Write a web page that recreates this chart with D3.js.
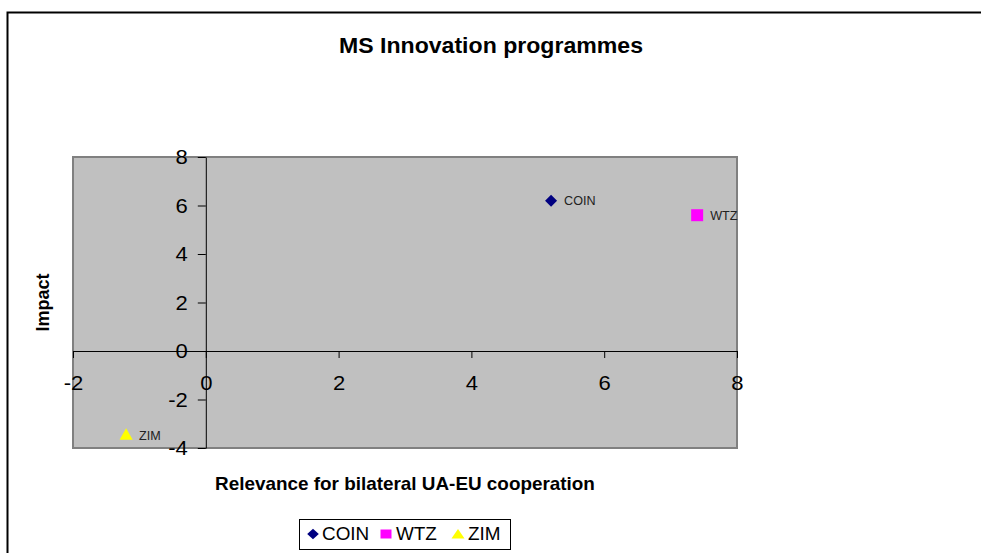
<!DOCTYPE html>
<html>
<head>
<meta charset="utf-8">
<script src="https://cdn.jsdelivr.net/npm/d3@7"></script>
<style>
  body { margin: 0; background: #fff; }
  text { font-family: "Liberation Sans", Arial, sans-serif; }
</style>
</head>
<body>
<div id="wrapper"></div>
<script>
// series data
const seriesNames = ["COIN", "WTZ", "ZIM"]
const relevanceValues = [5.2, 7.4, -1.2]
const impactValues = [6.2, 5.6, -3.5]
const seriesColors = ["#000080", "#FF00FF", "#FFFF00"]
const seriesShapes = ["diamond", "square", "triangle"]
const xTicks = [-2, 0, 2, 4, 6, 8]
const yTicks = [-4, -2, 0, 2, 4, 6, 8]

// text in the original is slightly wider than Liberation Sans
const stretch = 1.05

function drawChart() {
    const dimensions = {
        width: 981,
        height: 553,
        plot: { left: 73, right: 737, top: 157, bottom: 448 },
    }

    const svg = d3.select("#wrapper")
        .append("svg")
            .attr("width", dimensions.width)
            .attr("height", dimensions.height)

    // outer chart border (runs off the right and bottom of the picture)
    svg.append("rect")
        .attr("x", 7.5)
        .attr("y", 12.5)
        .attr("width", 1000)
        .attr("height", 600)
        .attr("fill", "none")
        .attr("stroke", "#000")
        .attr("stroke-width", 2)

    svg.append("text")
        .attr("transform", `translate(491,53) scale(${stretch},1)`)
        .attr("text-anchor", "middle")
        .attr("font-size", 22)
        .attr("font-weight", "bold")
        .text("MS Innovation programmes")

    const xScale = d3.scaleLinear()
        .domain([-2, 8])
        .range([dimensions.plot.left, dimensions.plot.right])

    const yScale = d3.scaleLinear()
        .domain([-4, 8])
        .range([dimensions.plot.bottom, dimensions.plot.top])

    // grey plot area
    svg.append("rect")
        .attr("x", dimensions.plot.left)
        .attr("y", dimensions.plot.top)
        .attr("width", dimensions.plot.right - dimensions.plot.left)
        .attr("height", dimensions.plot.bottom - dimensions.plot.top)
        .attr("fill", "#C0C0C0")
        .attr("stroke", "#808080")
        .attr("stroke-width", 2)

    const tickFormat = d => String(d)  // plain hyphen minus like the original

    // axes cross at zero
    const yAxis = d3.axisLeft(yScale)
        .tickValues(yTicks)
        .tickFormat(tickFormat)
        .tickSize(8)
        .tickSizeOuter(0)

    const yAxisG = svg.append("g")
        .attr("transform", `translate(${xScale(0)},0)`)
        .call(yAxis)
    yAxisG.selectAll("text")
        .attr("x", 0)
        .attr("transform", `translate(-18,0) scale(${stretch},1)`)

    const xAxis = d3.axisBottom(xScale)
        .tickValues(xTicks)
        .tickFormat(tickFormat)
        .tickSize(7)
        .tickPadding(17)
        .tickSizeOuter(0)

    const xAxisG = svg.append("g")
        .attr("transform", `translate(0,${yScale(0)})`)
        .call(xAxis)
    xAxisG.selectAll("text")
        .attr("transform", `scale(${stretch},1)`)

    svg.selectAll(".tick text")
        .attr("font-size", 21)
        .attr("fill", "#000")
        .attr("font-family", "Liberation Sans, Arial, sans-serif")
    svg.selectAll(".domain, .tick line").attr("stroke", "#000")

    // axis titles
    svg.append("text")
        .attr("transform", `translate(${(dimensions.plot.left + dimensions.plot.right) / 2},490) scale(${stretch},1)`)
        .attr("text-anchor", "middle")
        .attr("font-size", 18)
        .attr("font-weight", "bold")
        .text("Relevance for bilateral UA-EU cooperation")

    svg.append("text")
        .attr("transform", `translate(49,${(dimensions.plot.top + dimensions.plot.bottom) / 2}) rotate(-90)`)
        .attr("text-anchor", "middle")
        .attr("font-size", 18)
        .attr("font-weight", "bold")
        .text("Impact")

    const symbolFor = shape => {
        if (shape === "diamond") return d3.symbol(d3.symbolSquare, 72)()
        if (shape === "square") return d3.symbol(d3.symbolSquare, 144)()
        return d3.symbol(d3.symbolTriangle, 75)()
    }
    const rotFor = shape => shape === "diamond" ? 45 : 0

    const points = seriesNames.map((name, i) => ({
        name,
        x: relevanceValues[i],
        y: impactValues[i],
        color: seriesColors[i],
        shape: seriesShapes[i],
    }))

    const pointG = svg.append("g")
        .selectAll("g")
        .data(points)
        .join("g")
        .attr("transform", d => `translate(${xScale(d.x)},${yScale(d.y)})`)

    pointG.append("path")
        .attr("d", d => symbolFor(d.shape))
        .attr("transform", d => `rotate(${rotFor(d.shape)})`)
        .attr("fill", d => d.color)

    pointG.append("text")
        .attr("transform", `translate(13,4.5) scale(${stretch},1)`)
        .attr("font-size", 12)
        .attr("fill", "#222")
        .text(d => d.name)

    // legend
    const legend = svg.append("g")
    legend.append("rect")
        .attr("x", 299.5)
        .attr("y", 519.5)
        .attr("width", 211)
        .attr("height", 30)
        .attr("fill", "#fff")
        .attr("stroke", "#000")
        .attr("stroke-width", 1)

    const legendX = [313, 386, 458]
    const legendSymbol = shape => {
        if (shape === "diamond") return d3.symbol(d3.symbolSquare, 56)()
        if (shape === "square") return "M-5.5,-4.5H5.5V4.5H-5.5Z"
        return "M0,-5L6.5,4.5H-6.5Z"
    }
    const legendItems = legend.selectAll(".item")
        .data(points)
        .join("g")
        .attr("transform", (d, i) => `translate(${legendX[i]},534)`)

    legendItems.append("path")
        .attr("d", d => legendSymbol(d.shape))
        .attr("transform", d => d.shape === "diamond" ? "scale(1.1,1) rotate(45)" : null)
        .attr("fill", d => d.color)

    legendItems.append("text")
        .attr("transform", d => `translate(${d.shape === "diamond" ? 9 : 10},6) scale(${stretch},1)`)
        .attr("font-size", 18)
        .text(d => d.name)
}

drawChart()
</script>
</body>
</html>
